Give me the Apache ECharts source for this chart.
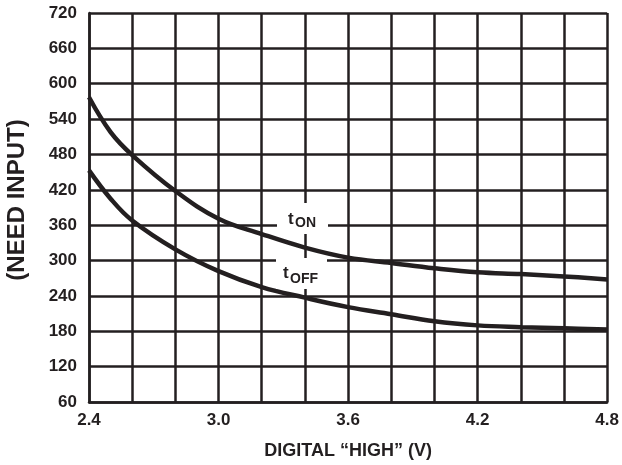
<!DOCTYPE html>
<html>
<head>
<meta charset="utf-8">
<script src="https://cdn.jsdelivr.net/npm/echarts@6/dist/echarts.min.js"></script>
<style>
html,body{margin:0;padding:0;background:#fff;}
#chart{width:622px;height:465px;}
</style>
</head>
<body>
<div id="chart"></div>
<script>
// Data
const xValues = [2.4, 2.5, 2.6, 2.8, 3.0, 3.2, 3.4, 3.6, 3.8, 4.0, 4.2, 4.4, 4.6, 4.8];
const tOn  = [577, 518, 479, 418, 371, 345, 322, 305, 296, 287, 280, 277, 273, 268];
const tOff = [453, 405, 368, 319, 282, 255, 237, 221, 209, 197, 190, 187, 185, 183];
const xTickLabels = ['2.4', '3.0', '3.6', '4.2', '4.8'];
const yTickLabels = ['60','120','180','240','300','360','420','480','540','600','660','720'];
const xAxisTitle = 'DIGITAL \u201CHIGH\u201D (V)';
const yAxisTitle = '(NEED INPUT)';
const seriesNames = ['tON', 'tOFF'];

const INK = '#231f20';
const FONT = '"Liberation Sans", Arial, sans-serif';

const chart = echarts.init(document.getElementById('chart'), null, {renderer: 'canvas'});

function pairs(ys) { return xValues.map((x, i) => [x, ys[i]]); }

const option = {
  backgroundColor: '#ffffff',
  animation: false,
  grid: {left: 89, right: 14, top: 13, bottom: 62, containLabel: false},
  xAxis: {
    type: 'value', min: 2.4, max: 4.8, interval: 0.2,
    name: xAxisTitle, nameLocation: 'middle', nameGap: 40,
    nameTextStyle: {fontFamily: FONT, fontWeight: 'bold', fontSize: 18, color: INK},
    axisLine: {show: true, lineStyle: {color: INK, width: 2.5}},
    axisTick: {show: false},
    axisLabel: {
      margin: 10, fontFamily: FONT, fontWeight: 'bold', fontSize: 17, color: INK,
      formatter: v => { const s = Number(v).toFixed(1); return xTickLabels.includes(s) ? s : ''; }
    },
    splitLine: {show: true, lineStyle: {color: INK, width: 2.5}}
  },
  yAxis: {
    type: 'value', min: 60, max: 720, interval: 60,
    axisLine: {show: true, lineStyle: {color: INK, width: 2.5}},
    axisTick: {show: false},
    axisLabel: {
      margin: 12, fontFamily: FONT, fontWeight: 'bold', fontSize: 17, color: INK,
      formatter: v => { const s = String(Math.round(v)); return yTickLabels.includes(s) ? s : ''; }
    },
    splitLine: {show: true, lineStyle: {color: INK, width: 2.5}}
  },
  series: [
    {name: seriesNames[0], type: 'line', data: pairs(tOn), smooth: 0.4,
     symbol: 'none', lineStyle: {color: INK, width: 4.5}, z: 5},
    {name: seriesNames[1], type: 'line', data: pairs(tOff), smooth: 0.4,
     symbol: 'none', lineStyle: {color: INK, width: 4.5}, z: 5}
  ],
  graphic: [
    {type: 'text', x: 17, y: 200, rotation: Math.PI / 2,
     style: {text: yAxisTitle, fontFamily: FONT, fontWeight: 'bold', fontSize: 24, fill: INK,
             align: 'center', verticalAlign: 'middle'}},
    {type: 'rect', shape: {x: 277, y: 203, width: 51, height: 31}, style: {fill: '#fff'}, z: 10},
    {type: 'text', x: 288, y: 219, z: 11,
     style: {text: 't', fontFamily: FONT, fontWeight: 'bold', fontSize: 17, fill: INK, verticalAlign: 'middle'}},
    {type: 'text', x: 295, y: 223, z: 11,
     style: {text: 'ON', fontFamily: FONT, fontWeight: 'bold', fontSize: 14, fill: INK, verticalAlign: 'middle'}},
    {type: 'rect', shape: {x: 276, y: 258, width: 51, height: 31}, style: {fill: '#fff'}, z: 10},
    {type: 'text', x: 283, y: 273, z: 11,
     style: {text: 't', fontFamily: FONT, fontWeight: 'bold', fontSize: 17, fill: INK, verticalAlign: 'middle'}},
    {type: 'text', x: 290, y: 279, z: 11,
     style: {text: 'OFF', fontFamily: FONT, fontWeight: 'bold', fontSize: 14, fill: INK, verticalAlign: 'middle'}}
  ]
};
chart.setOption(option);
</script>
</body>
</html>
